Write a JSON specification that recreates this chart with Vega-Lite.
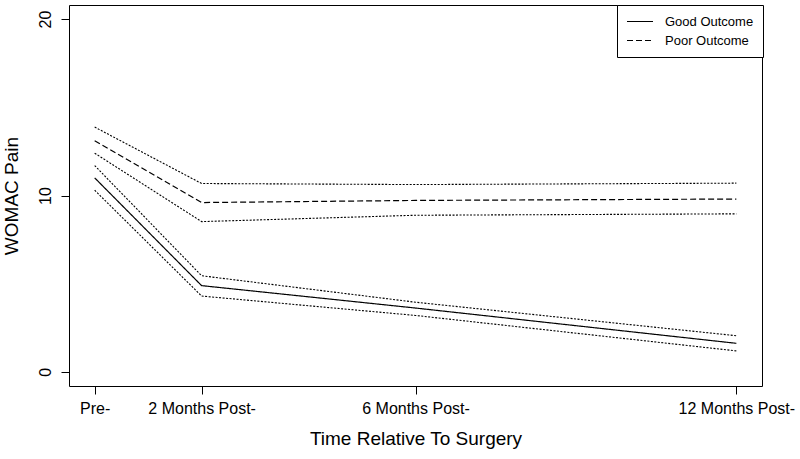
{
  "$schema": "https://vega.github.io/schema/vega-lite/v6.json",
  "autosize": {"type": "none"},
  "padding": {"left": 69, "top": 5, "right": 38, "bottom": 73},
  "width": 693,
  "height": 381,
  "background": "white",
  "config": {
    "view": {"stroke": "black", "strokeWidth": 1},
    "font": "Liberation Sans",
    "axis": {"domain": false, "tickColor": "black", "labelColor": "black", "titleColor": "black", "grid": false, "tickSize": 8, "titleFontWeight": "normal", "labelFont": "Liberation Sans", "titleFont": "Liberation Sans"}
  },
  "data": {
    "values": [
      {"t": 0, "s": "Good Outcome", "k": "main", "v": 11.0},
      {"t": 2, "s": "Good Outcome", "k": "main", "v": 4.89},
      {"t": 6, "s": "Good Outcome", "k": "main", "v": 3.62},
      {"t": 12, "s": "Good Outcome", "k": "main", "v": 1.62},
      {"t": 0, "s": "Good Upper", "k": "ci", "v": 11.7},
      {"t": 2, "s": "Good Upper", "k": "ci", "v": 5.45},
      {"t": 6, "s": "Good Upper", "k": "ci", "v": 3.95},
      {"t": 12, "s": "Good Upper", "k": "ci", "v": 2.05},
      {"t": 0, "s": "Good Lower", "k": "ci", "v": 10.3},
      {"t": 2, "s": "Good Lower", "k": "ci", "v": 4.3},
      {"t": 6, "s": "Good Lower", "k": "ci", "v": 3.2},
      {"t": 12, "s": "Good Lower", "k": "ci", "v": 1.19},
      {"t": 0, "s": "Poor Outcome", "k": "main", "v": 13.1},
      {"t": 2, "s": "Poor Outcome", "k": "main", "v": 9.6},
      {"t": 6, "s": "Poor Outcome", "k": "main", "v": 9.72},
      {"t": 12, "s": "Poor Outcome", "k": "main", "v": 9.8},
      {"t": 0, "s": "Poor Upper", "k": "ci", "v": 13.88},
      {"t": 2, "s": "Poor Upper", "k": "ci", "v": 10.68},
      {"t": 6, "s": "Poor Upper", "k": "ci", "v": 10.62},
      {"t": 12, "s": "Poor Upper", "k": "ci", "v": 10.7},
      {"t": 0, "s": "Poor Lower", "k": "ci", "v": 12.4},
      {"t": 2, "s": "Poor Lower", "k": "ci", "v": 8.52},
      {"t": 6, "s": "Poor Lower", "k": "ci", "v": 8.88},
      {"t": 12, "s": "Poor Lower", "k": "ci", "v": 8.96}
    ]
  },
  "encoding": {
    "x": {
      "field": "t", "type": "quantitative",
      "scale": {"domain": [-0.48, 12.48], "nice": false, "zero": false},
      "axis": {
        "values": [0, 2, 6, 12],
        "labelExpr": "datum.value == 0 ? 'Pre-' : datum.value == 2 ? '2 Months Post-' : datum.value == 6 ? '6 Months Post-' : '12 Months Post-'",
        "labelFontSize": 16, "labelPadding": 6, "labelFlush": false,
        "title": "Time Relative To Surgery", "titleFontSize": 19, "titlePadding": 13
      }
    },
    "y": {
      "field": "v", "type": "quantitative",
      "scale": {"domain": [-0.8, 20.8], "nice": false, "zero": false},
      "axis": {
        "values": [0, 10, 20],
        "labelAngle": 270, "labelAlign": "center", "labelBaseline": "bottom",
        "labelFontSize": 16, "labelPadding": 8,
        "title": "WOMAC Pain", "titleFontSize": 19, "titlePadding": 16
      }
    },
    "color": {"value": "black"}
  },
  "layer": [
    {
      "transform": [{"filter": "datum.k == 'main'"}],
      "mark": {"type": "line", "strokeWidth": 1.2},
      "encoding": {
        "strokeDash": {
          "field": "s", "type": "nominal",
          "scale": {"domain": ["Good Outcome", "Poor Outcome"], "range": [[1, 0], [6, 3]]},
          "legend": {
            "title": null, "orient": "none", "legendX": 548, "legendY": 0,
            "strokeColor": "black", "fillColor": "white", "padding": 9,
            "symbolType": "M-1,0H3", "symbolSize": 169, "symbolStrokeColor": "black", "symbolStrokeWidth": 1.2,
            "labelFontSize": 13, "labelOffset": 24, "rowPadding": 4, "labelColor": "black"
          }
        }
      }
    },
    {
      "transform": [{"filter": "datum.k == 'ci'"}],
      "mark": {"type": "line", "strokeWidth": 1.1, "strokeDash": [2, 1.5]},
      "encoding": {"detail": {"field": "s", "type": "nominal"}}
    }
  ]
}
